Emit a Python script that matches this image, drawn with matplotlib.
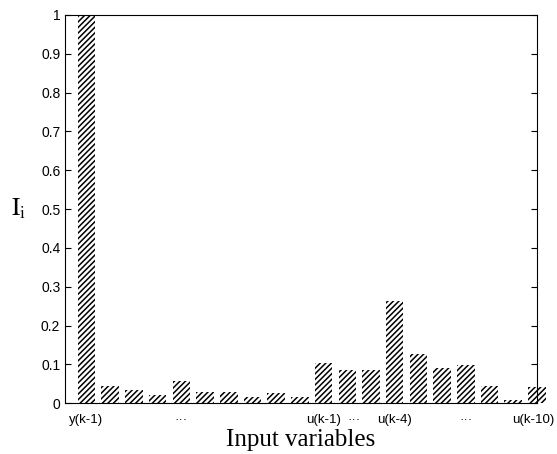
import matplotlib
matplotlib.use("Agg")
import matplotlib.pyplot as plt
import matplotlib.transforms as mtransforms

plt.rcParams['mathtext.fontset'] = 'stix'
plt.rcParams['hatch.linewidth'] = 1.1

# relative importance of each candidate input
positions = list(range(1, 21))
importance = [1.0, 0.045, 0.035, 0.022, 0.057, 0.03, 0.03, 0.015, 0.025, 0.015,
              0.103, 0.085, 0.085, 0.262, 0.127, 0.09, 0.097, 0.045, 0.007, 0.042]
tick_pos = [1, 5, 11, 12.3, 14, 17, 20]
tick_labels = ['y(k-1)', '···', 'u(k-1)', '···', 'u(k-4)', '···', 'u(k-10)']

fig = plt.figure(figsize=(5.57, 4.54), dpi=100)
ax = fig.add_axes([0.117, 0.112, 0.847, 0.855])

ax.bar(positions, importance, width=0.74, color='white', edgecolor='black',
       hatch='//////', linewidth=0, clip_on=False)

ax.set_xlim(0.1, 20.0)
ax.set_ylim(0, 1)
ax.set_yticks([i / 10 for i in range(11)])
ax.set_yticklabels(['0', '0.1', '0.2', '0.3', '0.4', '0.5', '0.6', '0.7', '0.8', '0.9', '1'])
ax.set_xticks(tick_pos)
ax.set_xticklabels(tick_labels)
ax.tick_params(axis='y', direction='in', right=True, length=4, labelsize=10)
ax.tick_params(axis='x', length=0, labelsize=9.5, pad=8)
for lab in ax.get_xticklabels() + ax.get_yticklabels():
    lab.set_family('Liberation Sans')

# last label sits a bit right of its bar, as in the original
last = ax.get_xticklabels()[-1]
last.set_transform(last.get_transform() +
                   mtransforms.ScaledTranslation(-4 / 100, 0, fig.dpi_scale_trans))

ax.set_xlabel('Input variables', fontsize=18, family='Liberation Serif', labelpad=2)
ax.set_ylabel(r'$\mathrm{I}_\mathrm{i}$', fontsize=18, rotation=0, va='center', labelpad=16)

fig.savefig('out.png', dpi=100)
